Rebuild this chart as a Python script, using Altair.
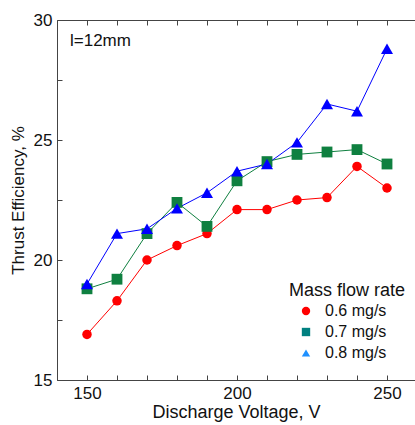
import altair as alt
import pandas as pd

voltage = [150, 160, 170, 180, 190, 200, 210, 220, 230, 240, 250]
eff_06 = [16.9, 18.3, 20.0, 20.6, 21.1, 22.1, 22.1, 22.5, 22.6, 23.9, 23.0]
eff_07 = [18.8, 19.2, 21.1, 22.4, 21.4, 23.3, 24.1, 24.4, 24.5, 24.6, 24.0]
eff_08 = [19.0, 21.1, 21.3, 22.15, 22.8, 23.7, 24.0, 24.9, 26.5, 26.2, 28.8]
series_names = ["0.6 mg/s", "0.7 mg/s", "0.8 mg/s"]
line_colors = ["#ff0000", "#0f8040", "#0000ff"]
legend_colors = ["#ff0000", "#008080", "#1e90ff"]
shapes = ["circle", "square", "triangle-up"]
marker_sizes = [90, 144, 121]
x_minor_ticks = [140, 150, 160, 170, 180, 190, 200, 210, 220, 230, 240, 250]
x_major_ticks = [150, 200, 250]
y_minor_ticks = [15, 17.5, 20, 22.5, 25, 27.5, 30]
y_major_ticks = [15, 20, 25, 30]
annotation = "l=12mm"
legend_title = "Mass flow rate"

rows = []
for i, (name, vals) in enumerate(zip(series_names, [eff_06, eff_07, eff_08])):
    for v, e in zip(voltage, vals):
        rows.append({"voltage": v, "eff": e, "series": name, "order": i})
df = pd.DataFrame(rows)

FONT = "Liberation Sans"
W, H = 358, 360
xscale = alt.Scale(domain=[140, 140 + W / 3], nice=False, zero=False)
yscale = alt.Scale(domain=[15, 30], nice=False, zero=False)

color_lines = alt.Color("series:N", sort=series_names,
                        scale=alt.Scale(domain=series_names, range=line_colors), legend=None)

lines = alt.Chart(df).mark_line(strokeWidth=1, clip=True).encode(
    x=alt.X("voltage:Q", scale=xscale,
            axis=alt.Axis(orient="bottom", values=x_major_ticks, ticks=False, tickSize=0,
                          labelPadding=5, title="Discharge Voltage, V", titlePadding=2,
                          titleFontSize=18, domain=True)),
    y=alt.Y("eff:Q", scale=yscale,
            axis=alt.Axis(orient="left", values=y_major_ticks, ticks=False, tickSize=0,
                          labelPadding=5, title="Thrust Efficiency, %", titlePadding=6,
                          titleFontSize=17, domain=True)),
    color=color_lines,
    detail="series:N",
    order="voltage:Q",
)

points = alt.Chart(df).mark_point(filled=True, opacity=1, clip=True).encode(
    x=alt.X("voltage:Q", scale=xscale, axis=None),
    y=alt.Y("eff:Q", scale=yscale, axis=None),
    color=color_lines,
    shape=alt.Shape("series:N", scale=alt.Scale(domain=series_names, range=shapes), legend=None),
    size=alt.Size("series:N", scale=alt.Scale(domain=series_names, range=marker_sizes), legend=None),
    order=alt.Order("order:Q"),
)

leg = alt.Legend(title=None, orient="none", legendX=241, legendY=283,
                 labelFont=FONT, labelFontSize=16, labelColor="#111",
                 symbolSize=70, symbolStrokeWidth=0, labelOffset=11, rowPadding=5,
                 symbolType="circle")
legend_layer = alt.Chart(df).transform_filter("false").mark_point(filled=True, opacity=1).encode(
    x=alt.X("voltage:Q", scale=xscale, axis=None),
    y=alt.Y("eff:Q", scale=yscale, axis=None),
    color=alt.Color("series:N", scale=alt.Scale(domain=series_names, range=legend_colors), legend=leg),
    shape=alt.Shape("series:N", scale=alt.Scale(domain=series_names, range=shapes), legend=leg),
)

# inward ticks: bottom, top, left
ticks_bottom = alt.Chart(df).mark_point(opacity=0).encode(
    x=alt.X("voltage:Q", scale=xscale,
            axis=alt.Axis(orient="top", offset=-H, values=x_minor_ticks, labels=False,
                          domain=False, ticks=True, tickSize=5, title=None)),
)
ticks_top = alt.Chart(df).mark_point(opacity=0).encode(
    x=alt.X("voltage:Q", scale=xscale,
            axis=alt.Axis(orient="bottom", offset=-H, values=x_minor_ticks, labels=False,
                          domain=True, ticks=True, tickSize=5, title=None)),
)
ticks_left = alt.Chart(df).mark_point(opacity=0).encode(
    y=alt.Y("eff:Q", scale=yscale,
            axis=alt.Axis(orient="right", offset=-W, values=y_minor_ticks, labels=False,
                          domain=False, ticks=True, tickSize=5, title=None)),
)

ann = alt.Chart(pd.DataFrame({"t": [annotation]})).mark_text(
    align="left", baseline="alphabetic", font=FONT, fontSize=17, color="#111"
).encode(text="t:N", x=alt.value(13), y=alt.value(26))

leg_title = alt.Chart(pd.DataFrame({"t": [legend_title]})).mark_text(
    align="left", baseline="alphabetic", font=FONT, fontSize=18, color="#111"
).encode(text="t:N", x=alt.value(232), y=alt.value(276))

chart = alt.layer(
    lines, points, legend_layer, ticks_bottom, ticks_top, ticks_left, ann, leg_title
).resolve_scale(
    x="independent", y="independent", color="independent", shape="independent", size="independent"
).resolve_axis(
    x="independent", y="independent"
).properties(
    width=W, height=H,
    padding={"left": 57, "top": 20, "right": 0, "bottom": 45},
    autosize=alt.AutoSizeParams(type="none"),
).configure_view(
    stroke=None
).configure_axis(
    labelFont=FONT, titleFont=FONT, labelFontSize=17, titleFontSize=17,
    titleFontWeight="normal", labelColor="#111", titleColor="#111",
    domainColor="#444", tickColor="#444", grid=False, domainWidth=1, tickWidth=1,
)

chart.save("out.html", embed_options={"renderer": "svg", "actions": False})
